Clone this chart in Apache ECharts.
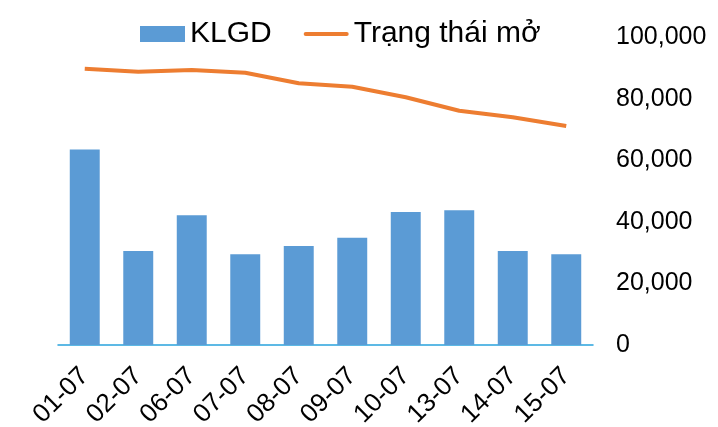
<!DOCTYPE html>
<html><head><meta charset="utf-8">
<script src="https://cdn.jsdelivr.net/npm/echarts@6/dist/echarts.min.js"></script>
<style>html,body{margin:0;padding:0;background:#fff}#c{width:718px;height:427px}</style>
</head><body><div id="c"></div>
<script>
const categories = ['01-07','02-07','06-07','07-07','08-07','09-07','10-07','13-07','14-07','15-07'];
const klgd = [63600, 30600, 42200, 29500, 32200, 34900, 43250, 43800, 30600, 29500];
const trangThaiMo = [89850, 88900, 89400, 88550, 85100, 84000, 80550, 76200, 74050, 71200];
const yTicks = [0, 20000, 40000, 60000, 80000, 100000];

const chart = echarts.init(document.getElementById('c'), null, {renderer:'canvas'});
const font = 'Liberation Sans, Arial, sans-serif';
chart.setOption({
  animation: false,
  backgroundColor: '#fff',
  legend: {
    left: 135, top: 14,
    itemWidth: 45, itemHeight: 16, itemGap: 32,
    textStyle: {fontFamily: font, fontSize: 30, color: '#000'},
    data: [
      {name:'KLGD', icon:'rect'},
      {name:'Trạng thái mở', icon:'path://M2,0 L43,0 A2,2 0 0 1 43,4 L2,4 A2,2 0 0 1 2,0 Z', itemStyle: {color: '#ED7D31'}}
    ]
  },
  grid: {left: 58, right: 125, top: 37.5, bottom: 82, containLabel: false, outerBoundsMode: 'none'},
  xAxis: {
    type: 'category', data: categories, boundaryGap: true,
    axisLine: {show: true, lineStyle: {color: '#29A3DD', width: 1.5}},
    axisTick: {show: false},
    axisLabel: {rotate: 45, margin: 27, fontFamily: font, fontSize: 26, color: '#000', interval: 0}
  },
  yAxis: {
    type: 'value', position: 'right', min: yTicks[0], max: yTicks[yTicks.length-1], interval: 20000,
    axisLine: {show: false}, axisTick: {show: false}, splitLine: {show: false},
    axisLabel: {margin: 23, fontFamily: font, fontSize: 25, color: '#000',
      formatter: v => v.toLocaleString('en-US')}
  },
  series: [
    {name: 'KLGD', type: 'bar', data: klgd, barWidth: '56%', itemStyle: {color: '#5B9BD5'}},
    {name: 'Trạng thái mở', type: 'line', data: trangThaiMo, symbol: 'none',
     lineStyle: {color: '#ED7D31', width: 4}, itemStyle: {color: '#ED7D31'}}
  ]
});
</script></body></html>
